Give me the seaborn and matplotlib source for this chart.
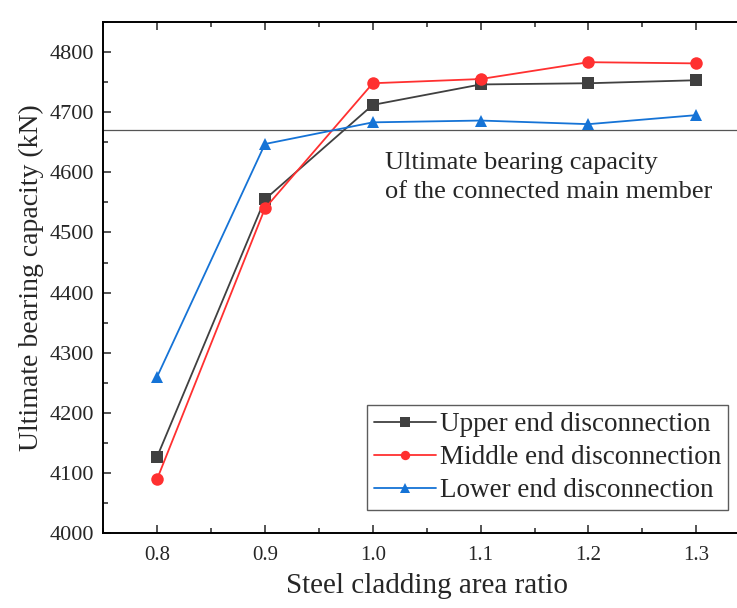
import numpy as np
import pandas as pd
import matplotlib
matplotlib.use("Agg")
import matplotlib.pyplot as plt
from matplotlib.ticker import MultipleLocator
import seaborn as sns

# data
ratio = [0.8, 0.9, 1.0, 1.1, 1.2, 1.3]
upper = [4127, 4555, 4712, 4746, 4748, 4753]
middle = [4090, 4540, 4748, 4755, 4783, 4781]
lower = [4260, 4647, 4683, 4686, 4680, 4695]
member_capacity = 4670

series = ["Upper end disconnection", "Middle end disconnection", "Lower end disconnection"]
colors = ["#404040", "#ff3030", "#1573d6"]
markers = ["s", "o", "^"]

df = pd.DataFrame({
    "ratio": ratio * 3,
    "capacity": upper + middle + lower,
    "case": [series[0]] * 6 + [series[1]] * 6 + [series[2]] * 6,
})

sns.set_style("ticks")
plt.rcParams["font.family"] = ["Liberation Serif", "DejaVu Serif"]

fig = plt.figure(figsize=(7.37, 6.08), dpi=100)
ax = fig.add_axes([0.14, 0.123, 0.878, 0.841])

ax.axhline(member_capacity, color="#555555", lw=0.9, zorder=1)

sns.lineplot(data=df, x="ratio", y="capacity", hue="case", style="case",
             hue_order=series, style_order=series,
             palette=colors, markers=markers, dashes=False,
             markersize=9, markeredgewidth=0, linewidth=1.3, ax=ax, zorder=3)

ax.set_xlim(0.75, 1.35)
ax.set_ylim(4000, 4850)
ax.xaxis.set_minor_locator(MultipleLocator(0.05))
ax.yaxis.set_major_locator(MultipleLocator(100))
ax.yaxis.set_minor_locator(MultipleLocator(50))
ax.set_xticks(ratio)
ax.set_xticklabels([f"{r:.1f}" for r in ratio])
ax.tick_params(which="both", direction="in", top=True, right=True, width=1.1)
ax.tick_params(which="major", length=6)
ax.tick_params(axis="x", which="major", pad=9, labelsize=15)
ax.tick_params(axis="y", which="major", pad=6.5, labelsize=16)
ax.tick_params(which="minor", length=3.5)
for s in ax.spines.values():
    s.set_linewidth(1.4)
    s.set_color("black")

ax.set_xlabel("Steel cladding area ratio", fontsize=21, labelpad=6)
ax.set_ylabel("Ultimate bearing capacity (kN)", fontsize=20)
ax.yaxis.set_label_coords(-0.092, 0.5)

ax.text(1.011, 4633, "Ultimate bearing capacity\nof the connected main member",
        fontsize=19, va="top", ha="left", linespacing=1.4)

leg = ax.legend(loc="lower right", bbox_to_anchor=(0.966, 0.045), fontsize=19.5,
                frameon=True, fancybox=False, edgecolor="#333333",
                handlelength=2.3, handletextpad=0.15, borderpad=0.25,
                labelspacing=0.3, borderaxespad=0, markerscale=0.75)
leg.get_frame().set_linewidth(1.0)
leg.set_title(None)

fig.savefig("out.png", dpi=100)
